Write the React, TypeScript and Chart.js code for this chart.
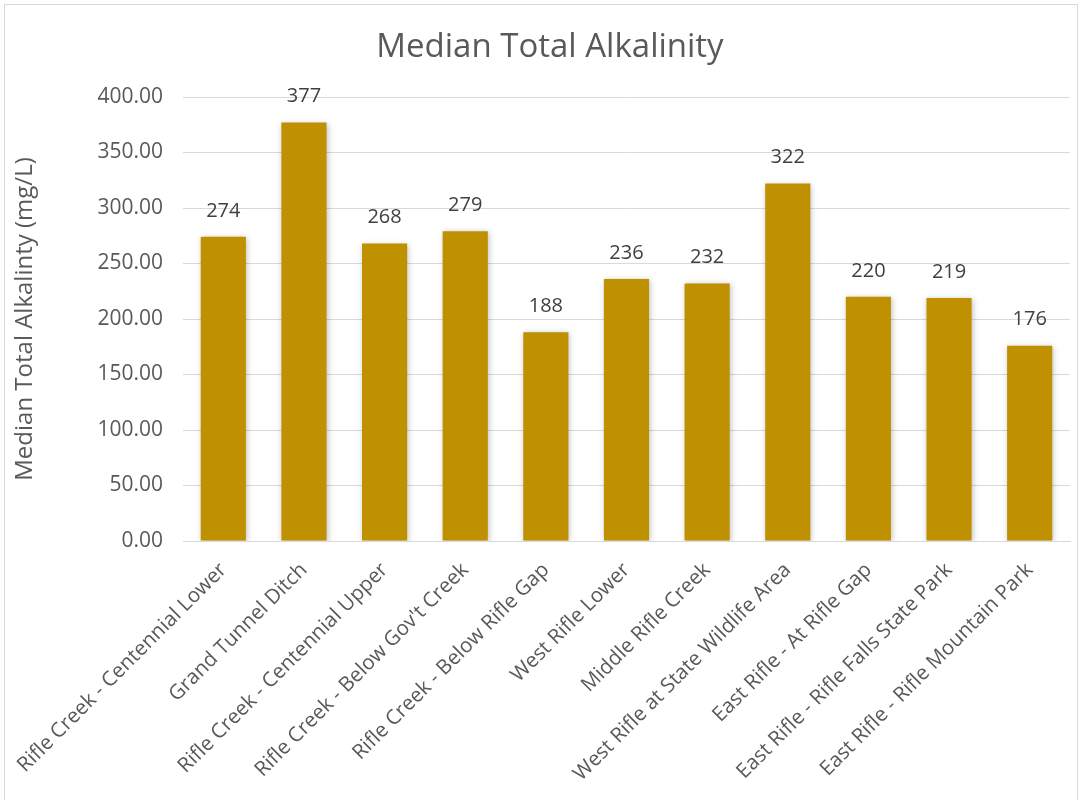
import React, { useEffect, useRef } from "react";
import { Chart, registerables } from "chart.js";

Chart.register(...registerables);

const categories: string[] = [
  "Rifle Creek - Centennial Lower",
  "Grand Tunnel Ditch",
  "Rifle Creek - Centennial Upper",
  "Rifle Creek - Below Gov't Creek",
  "Rifle Creek - Below Rifle Gap",
  "West Rifle Lower",
  "Middle Rifle Creek",
  "West Rifle at State Wildlife Area",
  "East Rifle - At Rifle Gap",
  "East Rifle - Rifle Falls State Park",
  "East Rifle - Rifle Mountain Park",
];

const medianAlkalinity: number[] = [274, 377, 268, 279, 188, 236, 232, 322, 220, 219, 176];

const titleText = "Median Total Alkalinity";
const yAxisTitle = "Median Total Alkalinty (mg/L)";
const yMin = 0;
const yMax = 400;
const yStep = 50;

const FONT = "'Open Sans', sans-serif";

const borderPlugin = {
  id: "frameBorder",
  beforeDraw(chart: any) {
    const ctx = chart.ctx;
    ctx.save();
    ctx.fillStyle = "#ffffff";
    ctx.fillRect(0, 0, chart.width, chart.height);
    ctx.strokeStyle = "#d9d9d9";
    ctx.lineWidth = 1;
    ctx.strokeRect(4.5, 4.5, chart.width - 9, chart.height + 10);
    ctx.restore();
  },
};

const titlePlugin = {
  id: "customTitle",
  afterDraw(chart: any) {
    const ctx = chart.ctx;
    ctx.save();
    ctx.font = `33px ${FONT}`;
    ctx.fillStyle = "#595959";
    ctx.textAlign = "center";
    ctx.textBaseline = "middle";
    ctx.fillText(titleText, 550, 48);
    ctx.restore();
  },
};

const shadowPlugin = {
  id: "barShadow",
  beforeDatasetDraw(chart: any) {
    const ctx = chart.ctx;
    ctx.save();
    ctx.shadowColor = "rgba(0,0,0,0.25)";
    ctx.shadowBlur = 6;
    ctx.shadowOffsetX = 1;
    ctx.shadowOffsetY = 1;
  },
  afterDatasetDraw(chart: any) {
    chart.ctx.restore();
  },
};

const dataLabelPlugin = {
  id: "dataLabels",
  afterDatasetsDraw(chart: any) {
    const ctx = chart.ctx;
    const meta = chart.getDatasetMeta(0);
    const data = chart.data.datasets[0].data as number[];
    ctx.save();
    ctx.font = `20px ${FONT}`;
    ctx.fillStyle = "#404040";
    ctx.textAlign = "center";
    ctx.textBaseline = "middle";
    meta.data.forEach((bar: any, i: number) => {
      ctx.fillText(String(Math.round(data[i])), bar.x, bar.y - 26);
    });
    ctx.restore();
  },
};

export default function App() {
  const canvasRef = useRef<HTMLCanvasElement | null>(null);

  useEffect(() => {
    const canvas = canvasRef.current;
    if (!canvas) return;
    const chart = new Chart(canvas, {
      type: "bar",
      data: {
        labels: categories,
        datasets: [
          {
            data: medianAlkalinity,
            backgroundColor: "#BF9000",
            borderWidth: 0,
            categoryPercentage: 1,
            barPercentage: 0.56,
          },
        ],
      },
      options: {
        animation: false,
        responsive: false,
        layout: { padding: { left: 0, right: 12, top: 97, bottom: 0 } },
        plugins: {
          legend: { display: false },
          tooltip: { enabled: false },
          title: { display: false },
        },
        scales: {
          x: {
            grid: { display: false, drawTicks: false },
            border: { display: true, color: "#d9d9d9", width: 1 },
            ticks: {
              color: "#595959",
              font: { family: FONT, size: 20.5 },
              minRotation: 45,
              maxRotation: 45,
              autoSkip: false,
              padding: 17,
            },
            afterFit(scale: any) {
              scale.height = 259;
              scale.paddingLeft = 0;
              scale.paddingRight = 0;
            },
          },
          y: {
            min: yMin,
            max: yMax,
            grid: { color: "#d9d9d9", drawTicks: false },
            border: { display: false },
            ticks: {
              stepSize: yStep,
              color: "#595959",
              font: { family: FONT, size: 21 },
              padding: 20,
              callback: (v: any) => Number(v).toFixed(2),
            },
            title: {
              display: true,
              text: yAxisTitle,
              color: "#595959",
              font: { family: FONT, size: 24, weight: "normal" },
              padding: { top: 11, bottom: 0 },
            },
            afterFit(scale: any) {
              scale.width = 183;
            },
          },
        },
      },
      plugins: [borderPlugin, shadowPlugin, dataLabelPlugin, titlePlugin],
    });
    return () => chart.destroy();
  }, []);

  return (
    <div style={{ position: "fixed", left: 0, top: 0, width: 1082, height: 800, background: "#fff" }}>
      <canvas ref={canvasRef} width={1082} height={800} style={{ width: 1082, height: 800, display: "block" }} />
    </div>
  );
}
